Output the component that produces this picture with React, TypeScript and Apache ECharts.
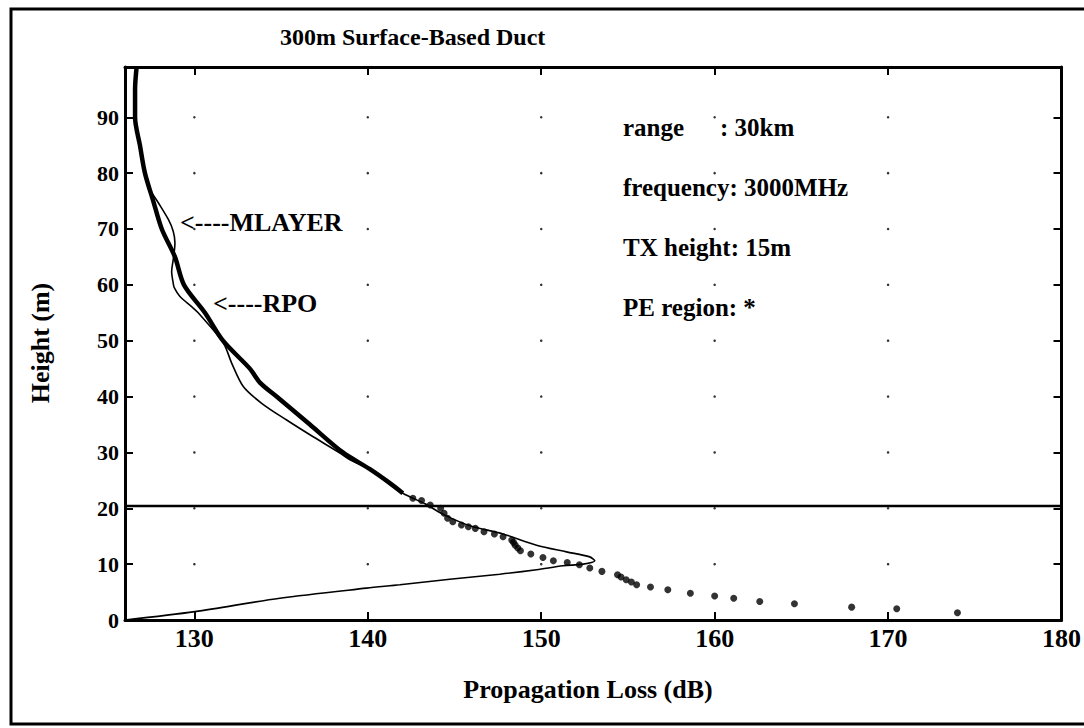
import React, { useEffect, useRef } from "react";
import * as echarts from "echarts";

const xTicks = [130, 140, 150, 160, 170, 180];
const yTicks = [0, 10, 20, 30, 40, 50, 60, 70, 80, 90];

// RPO (thick line, above the PE region)
const rpoLoss = [126.67, 126.58, 126.58, 126.86, 127.15, 127.63, 128.12, 128.88, 129.4, 130.61, 131.65, 133.2, 133.78, 134.74, 136.66, 138.56, 140.12, 141.27, 142.02];
const rpoHeight = [99, 95, 90, 85, 80, 75, 70, 65, 60, 55, 50, 45, 42.5, 40, 35, 30, 27, 24.5, 22.7];

// MLAYER (thin line)
const mlayerLoss = [126.67, 126.58, 126.86, 127.15, 127.44, 127.92, 128.5, 128.78, 128.88, 128.78, 128.69, 128.78, 128.84, 129.17, 129.84, 130.22, 131.67, 132.15, 132.82, 133.88, 135.32, 136.85, 138.39, 138.97, 140.12, 141.27, 142.02, 143.3, 144.3, 145.5, 146.07, 147.8, 149.73, 151.46, 152.8, 153.09, 152.42, 151.26, 149.73, 147.61, 144.73, 141.85, 139.93, 134.93, 130.03, 126.0];
const mlayerHeight = [99, 90, 85, 80, 77.1, 74.7, 71.7, 69.6, 67.5, 64.5, 62.4, 60.3, 59.5, 57.9, 56.1, 55.0, 49.6, 46.0, 41.8, 38.8, 35.8, 32.8, 29.9, 28.7, 27, 24.5, 22.7, 20.8, 19.0, 17.3, 16.7, 15.4, 13.4, 12.2, 11.3, 10.6, 10.0, 9.7, 9.0, 8.2, 7.3, 6.3, 5.7, 3.9, 1.5, 0];

// PE region (dots)
const peLoss = [142.6, 143.1, 143.6, 144.2, 144.4, 144.6, 144.9, 145.4, 145.8, 146.2, 146.7, 147.3, 147.8, 148.3, 148.4, 148.5, 148.65, 148.8, 149.4, 150.1, 150.7, 151.5, 152.2, 152.8, 153.5, 154.4, 154.6, 154.9, 155.2, 155.5, 156.3, 157.3, 158.6, 160.0, 161.1, 162.6, 164.6, 167.9, 170.5, 174.0];
const peHeight = [21.8, 21.4, 20.6, 20.0, 19.1, 18.2, 17.6, 17.0, 16.7, 16.4, 15.8, 15.4, 14.9, 14.3, 13.9, 13.4, 12.9, 12.4, 11.8, 11.2, 10.6, 10.3, 9.9, 9.3, 8.7, 8.1, 7.7, 7.2, 6.8, 6.3, 5.9, 5.4, 4.8, 4.3, 3.9, 3.3, 2.9, 2.3, 2.0, 1.3];

const boundaryHeight = 20.4;
const xMin = 126;
const xMax = 180;
const yMin = 0;
const yMax = 99;

const infoLines = ["frequency: 3000MHz", "TX height: 15m", "PE region: *"];

const SERIF = '"Liberation Serif", "Times New Roman", serif';

export default function App() {
  const ref = useRef<HTMLDivElement>(null);
  useEffect(() => {
    if (!ref.current) return;
    const chart = echarts.init(ref.current, null, { renderer: "svg" });
    const pair = (xs: number[], ys: number[]) => xs.map((x, i) => [x, ys[i]]);
    const gridDots: number[][] = [];
    xTicks.slice(0, -1).forEach((x) => yTicks.slice(1).forEach((y) => gridDots.push([x, y])));

    const axisCommon = {
      type: "value" as const,
      axisLine: { show: true, onZero: false, lineStyle: { color: "#000", width: 3 } },
      axisTick: { show: true, inside: true, length: 8, lineStyle: { color: "#000", width: 2 } },
      splitLine: { show: false },
    };

    chart.setOption({
      animation: false,
      backgroundColor: "#fff",
      grid: { left: 125, top: 67, right: 22, bottom: 108, containLabel: false },
      xAxis: [
        {
          ...axisCommon,
          position: "bottom",
          min: xMin,
          max: xMax,
          axisTick: { ...axisCommon.axisTick, customValues: xTicks },
          axisLabel: {
            customValues: xTicks,
            color: "#000",
            fontFamily: SERIF,
            fontWeight: "bold",
            fontSize: 26,
            margin: 5,
          },
        },
        {
          ...axisCommon,
          position: "top",
          min: xMin,
          max: xMax,
          axisTick: { ...axisCommon.axisTick, customValues: xTicks },
          axisLabel: { show: false },
        },
      ],
      yAxis: [
        {
          ...axisCommon,
          position: "left",
          min: yMin,
          max: yMax,
          axisTick: { ...axisCommon.axisTick, customValues: yTicks },
          axisLabel: {
            customValues: yTicks,
            color: "#000",
            fontFamily: SERIF,
            fontWeight: "bold",
            fontSize: 22,
            margin: 6,
          },
        },
        {
          ...axisCommon,
          position: "right",
          min: yMin,
          max: yMax,
          axisTick: { ...axisCommon.axisTick, customValues: yTicks },
          axisLabel: { show: false },
        },
      ],
      series: [
        {
          type: "scatter",
          data: gridDots,
          symbolSize: 2.5,
          itemStyle: { color: "#000" },
          silent: true,
        },
        {
          type: "line",
          data: [[xMin, boundaryHeight], [xMax, boundaryHeight]],
          showSymbol: false,
          lineStyle: { color: "#000", width: 2.5 },
        },
        {
          name: "MLAYER",
          type: "line",
          data: pair(mlayerLoss, mlayerHeight),
          showSymbol: false,
          smooth: 0.3,
          lineStyle: { color: "#000", width: 1.6 },
        },
        {
          name: "RPO",
          type: "line",
          data: pair(rpoLoss, rpoHeight),
          showSymbol: false,
          smooth: 0.3,
          lineStyle: { color: "#000", width: 4.5 },
        },
        {
          name: "PE region",
          type: "scatter",
          data: pair(peLoss, peHeight),
          symbolSize: 7,
          itemStyle: { color: "#000" },
        },
      ],
      graphic: [
        {
          type: "rect",
          shape: { x: 11, y: 9, width: 1090, height: 715 },
          style: { fill: "none", stroke: "#000", lineWidth: 3 },
          silent: true,
        },
        {
          type: "text",
          x: 280,
          y: 37,
          style: { text: "300m Surface-Based Duct", fill: "#000", font: `bold 24px ${SERIF}`, align: "left", verticalAlign: "middle" },
        },
        {
          type: "text",
          x: 40,
          y: 343,
          rotation: Math.PI / 2,
          style: { text: "Height (m)", fill: "#000", font: `bold 26px ${SERIF}`, align: "center", verticalAlign: "middle" },
        },
        {
          type: "text",
          x: 588,
          y: 689,
          style: { text: "Propagation Loss (dB)", fill: "#000", font: `bold 26px ${SERIF}`, align: "center", verticalAlign: "middle" },
        },
        {
          type: "text",
          x: 180,
          y: 222,
          style: { text: "<----MLAYER", fill: "#000", font: `bold 26px ${SERIF}`, align: "left", verticalAlign: "middle" },
        },
        {
          type: "text",
          x: 213,
          y: 303,
          style: { text: "<----RPO", fill: "#000", font: `bold 26px ${SERIF}`, align: "left", verticalAlign: "middle" },
        },
        {
          type: "text",
          x: 623,
          y: 127,
          style: { text: "range", fill: "#000", font: `bold 25px ${SERIF}`, align: "left", verticalAlign: "middle" },
        },
        {
          type: "text",
          x: 720,
          y: 127,
          style: { text: ": 30km", fill: "#000", font: `bold 25px ${SERIF}`, align: "left", verticalAlign: "middle" },
        },
        ...infoLines.map((t, i) => ({
          type: "text",
          x: 623,
          y: 187 + i * 60,
          style: { text: t, fill: "#000", font: `bold 25px ${SERIF}`, align: "left", verticalAlign: "middle" },
        })),
      ],
    });
    return () => chart.dispose();
  }, []);
  return (
    <div
      ref={ref}
      style={{ position: "fixed", left: 0, top: 0, width: 1084, height: 728, background: "#fff" }}
    />
  );
}
